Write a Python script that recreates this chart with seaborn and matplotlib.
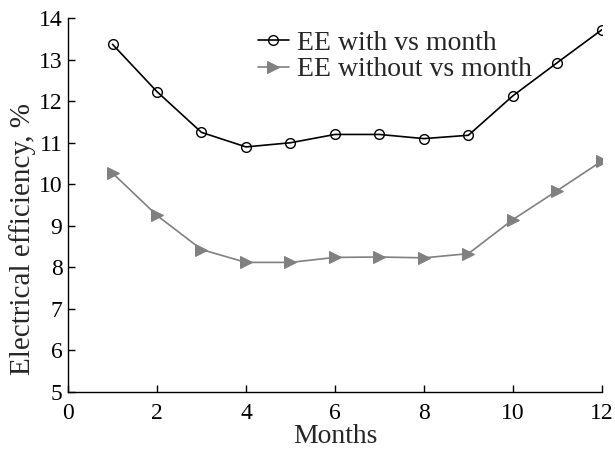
import matplotlib
matplotlib.use('Agg')
import matplotlib.pyplot as plt
import seaborn as sns
import pandas as pd

# Data
months = [1, 2, 3, 4, 5, 6, 7, 8, 9, 10, 11, 12]
ee_with = [13.37, 12.23, 11.25, 10.90, 11.00, 11.20, 11.20, 11.10, 11.18, 12.13, 12.93, 13.72]
ee_without = [10.27, 9.25, 8.43, 8.12, 8.12, 8.24, 8.25, 8.23, 8.33, 9.15, 9.85, 10.56]
series_names = ['EE with vs month', 'EE without vs month']

sns.set_style('ticks')
plt.rcParams['font.family'] = ['Liberation Serif', 'DejaVu Serif']
plt.rcParams['xtick.direction'] = 'in'
plt.rcParams['ytick.direction'] = 'in'

df = pd.DataFrame({
    'Months': months * 2,
    'EE': ee_with + ee_without,
    'series': [series_names[0]] * len(months) + [series_names[1]] * len(months),
})

fig = plt.figure(figsize=(6.15, 4.51), dpi=100)
ax = fig.add_axes([0.1106, 0.1308, 0.868, 0.829])

sns.lineplot(data=df[df['series'] == series_names[0]], x='Months', y='EE',
             color='black', marker='o', markersize=7, markerfacecolor='none',
             markeredgecolor='black', markeredgewidth=1.0, linewidth=1.2,
             label=series_names[0], ax=ax)
sns.lineplot(data=df[df['series'] == series_names[1]], x='Months', y='EE',
             color='#808080', marker='>', markersize=8, markeredgecolor='#808080',
             linewidth=1.2, label=series_names[1], ax=ax)

ax.set_xlim(0, 12)
ax.set_ylim(5, 14)
ax.set_xticks(range(0, 13, 2))
ax.set_yticks(range(5, 15))
ax.tick_params(labelsize=17, length=5, width=1, colors='black', pad=4)
ax.tick_params(axis='x', pad=8)
ax.set_xlabel('Months', fontsize=20, labelpad=0)
ax.set_ylabel('Electrical efficiency, %', fontsize=21)
ax.yaxis.set_label_coords(-0.06, 0.41)
sns.despine(ax=ax)
for s in ['left', 'bottom']:
    ax.spines[s].set_linewidth(1.0)
    ax.spines[s].set_color('black')

ax.legend(loc='upper left', bbox_to_anchor=(0.356, 0.968), frameon=False, fontsize=20,
          handlelength=1.1, handletextpad=0.3, labelspacing=0.05, borderpad=0,
          borderaxespad=0)

fig.savefig('out.png', dpi=100)
